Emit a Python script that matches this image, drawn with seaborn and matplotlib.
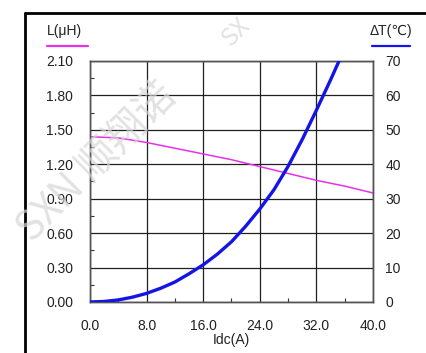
import numpy as np
import pandas as pd
import matplotlib
matplotlib.use("Agg")
import matplotlib.pyplot as plt
from matplotlib.lines import Line2D
from matplotlib.ticker import MultipleLocator
import seaborn as sns

# --- data ---
idc_L = [0, 4, 8, 12, 16, 20, 24, 28, 32, 36, 40]
ind_uH = [1.44, 1.43, 1.39, 1.34, 1.29, 1.24, 1.18, 1.12, 1.06, 1.01, 0.95]

idc_T = [0, 2, 4, 6, 8, 10, 12, 14, 16, 18, 20, 22, 24, 26, 28, 30, 32, 34, 35.2]
temp_rise = [0, 0.15, 0.6, 1.4, 2.5, 4.0, 5.8, 8.2, 10.8, 13.9, 17.5, 22.0,
             27.0, 32.6, 39.4, 47.2, 55.7, 64.5, 70.0]

x_ticks = [0, 8, 16, 24, 32, 40]
left_ticks = [0.0, 0.3, 0.6, 0.9, 1.2, 1.5, 1.8, 2.1]
right_ticks = [0, 10, 20, 30, 40, 50, 60, 70]

MAGENTA = "#e830e8"
BLUE = "#1414e6"
TXT = "#222222"
FONT = ["Liberation Sans", "DejaVu Sans"]

sns.set_theme(style="white")
plt.rcParams["font.family"] = FONT
plt.rcParams["font.size"] = 10

fig = plt.figure(figsize=(4.27, 3.53), dpi=100)
ax = fig.add_axes([0.2108, 0.1445, 0.6627, 0.6827])
ax2 = ax.twinx()

df_L = pd.DataFrame({"idc": idc_L, "L": ind_uH})
df_T = pd.DataFrame({"idc": idc_T, "T": temp_rise})

sns.lineplot(data=df_L, x="idc", y="L", ax=ax, color=MAGENTA, linewidth=1.1, zorder=3)
sns.lineplot(data=df_T, x="idc", y="T", ax=ax2, color=BLUE, linewidth=2.4, zorder=3)

ax.set_xlim(0, 40)
ax.set_ylim(0, 2.1)
ax2.set_ylim(0, 70)

ax.set_xticks(x_ticks)
ax.set_xticklabels([f"{v:.1f}" for v in x_ticks])
ax.set_yticks(left_ticks)
ax.set_yticklabels([f"{v:.2f}" for v in left_ticks])
ax2.set_yticks(right_ticks)
ax2.set_yticklabels([str(v) for v in right_ticks])

ax.xaxis.set_minor_locator(MultipleLocator(4))
ax.yaxis.set_minor_locator(MultipleLocator(0.15))
ax.grid(True, which="major", color="#202020", linewidth=0.9)
ax.tick_params(which="major", length=0, labelsize=10, colors=TXT, pad=12)
ax.tick_params(axis="x", which="major", pad=12)
ax.tick_params(which="minor", direction="in", length=3, width=0.8,
               color="#333333", bottom=True, left=True)
ax2.tick_params(which="major", length=0, labelsize=10, colors=TXT, pad=9)
ax2.grid(False)

for a in (ax, ax2):
    for s in a.spines.values():
        s.set_color("#555555")
        s.set_linewidth(1.0)

ax.set_xlabel("Idc(A)", fontsize=10, color=TXT, labelpad=0)
ax.set_ylabel("")
ax2.set_ylabel("")

# axis titles with colour keys
fig.text(64 / 427, 1 - 31 / 353, "L(μH)", ha="center", va="center", fontsize=10, color=TXT)
fig.add_artist(Line2D([47 / 427, 88 / 427], [1 - 46 / 353, 1 - 46 / 353],
                      color=MAGENTA, linewidth=1.6))
fig.text(391 / 427, 1 - 31 / 353, "ΔT(℃)", ha="center", va="center", fontsize=10, color=TXT)
fig.add_artist(Line2D([372 / 427, 410 / 427], [1 - 46 / 353, 1 - 46 / 353],
                      color=BLUE, linewidth=1.6))

# outer frame (left and top edges)
fig.add_artist(Line2D([25 / 427, 25 / 427], [0, 1 - 13 / 353], color="black", linewidth=2))
fig.add_artist(Line2D([25 / 427, 1], [1 - 13 / 353, 1 - 13 / 353], color="black", linewidth=2))

# watermark
fig.text(97 / 427, 1 - 162 / 353, "SXN 顺翔诺", rotation=45, ha="center", va="center",
         fontsize=29, color="#d6d6d6", alpha=0.7, zorder=10,
         family=["Noto Sans CJK SC", "DejaVu Sans"])
fig.text(236 / 427, 1 - 32 / 353, "SX", rotation=45, ha="center", va="center",
         fontsize=18, color="#d6d6d6", alpha=0.7, zorder=10,
         family=["Noto Sans CJK SC", "DejaVu Sans"])

fig.savefig("out.png", dpi=100)
